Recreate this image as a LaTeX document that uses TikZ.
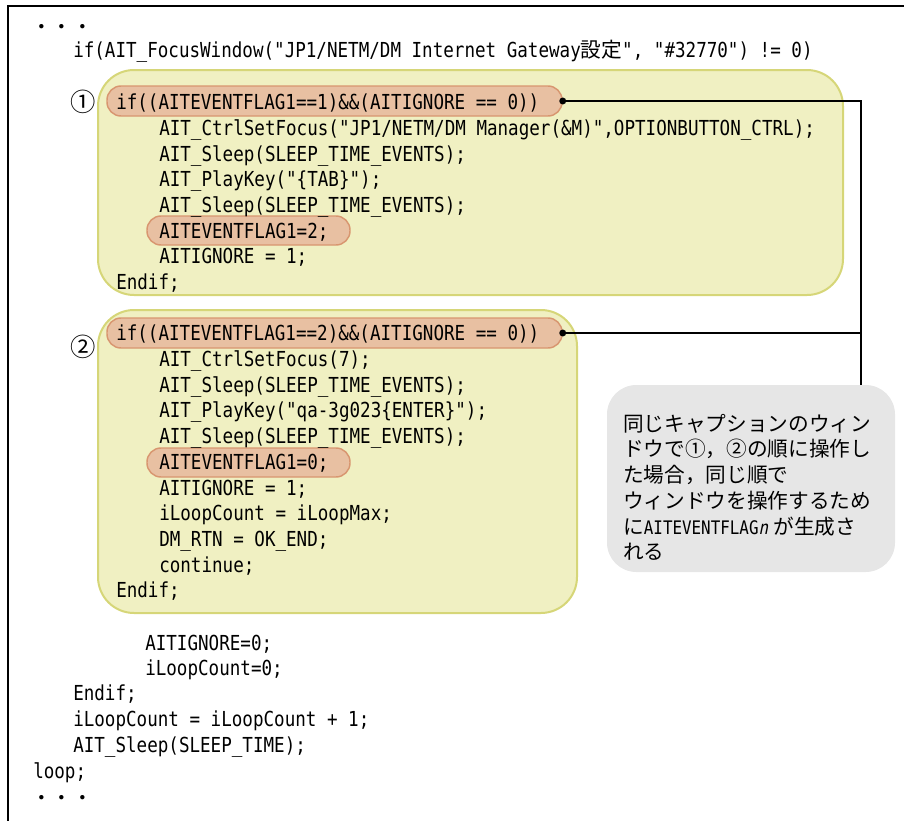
\documentclass[tikz,border=0pt]{standalone}
\usepackage{fontspec}
\usetikzlibrary{fit}
\newfontfamily\codefont[FakeStretch=0.85]{DejaVu Sans Mono}
\newfontfamily\codeslant[FakeStretch=0.85,FakeSlant=0.2]{DejaVu Sans Mono}
\newfontfamily\jpfont{Noto Sans CJK JP}
\newcommand\codesz{\codefont\fontsize{15.5pt}{19pt}\selectfont}
\newcommand\capcode{\codefont\fontsize{14pt}{19pt}\selectfont}
\newcommand\capit{\codeslant\fontsize{14pt}{19pt}\selectfont}
\newcommand\jpsz{\jpfont\fontsize{15.5pt}{19pt}\selectfont}
\newcommand\numsz{\jpfont\fontsize{19pt}{22pt}\selectfont}
\newcommand\jp[1]{{\jpsz #1}}
\definecolor{blockfill}{RGB}{240,240,194}
\definecolor{blockline}{RGB}{214,214,120}
\definecolor{pillfill}{RGB}{232,192,162}
\definecolor{pillline}{RGB}{216,150,112}
\definecolor{notefill}{RGB}{230,230,230}
\begin{document}
\begin{tikzpicture}[x=0.75pt,y=-0.75pt,
  blockbox/.style={draw=blockline, fill=blockfill, line width=1.5pt, rounded corners=27pt, inner sep=0pt},
  pill/.style={draw=pillline, fill=pillfill, line width=1.1pt, rounded corners=10.5pt, inner sep=0pt},
  notebox/.style={fill=notefill, rounded corners=22pt, inner sep=0pt},
  codeline/.style={anchor=base west, inner sep=0pt, font=\codesz},
  jpline/.style={anchor=base west, inner sep=0pt, font=\jpsz},
  numline/.style={anchor=base west, inner sep=0pt, font=\numsz},
  conn/.style={line width=1.1pt},
  frameline/.style={line width=1.5pt}]
\useasboundingbox (0,0) rectangle (904,821);
% frame
\draw[frameline] (8,821) -- (8,6) -- (904,6);

% blocks and pills
\node[blockbox, fit={(98,70) (843,295)}] (b1) {};
\node[blockbox, fit={(98,310) (577,613)}] (b2) {};
\node[pill, fit={(107,86) (562,116)}] (p1) {};
\node[pill, fit={(147,216) (350,245)}] (p3) {};
\node[pill, fit={(107,318) (562,348)}] (p2) {};
\node[pill, fit={(147,448) (350,477)}] (p4) {};
\node[notebox, fit={(607,385) (895,572)}] (note) {};

% connectors
\coordinate (c1) at (861,101);
\draw[conn] (p1.east) -- (c1) -- (c1 |- note.north);
\draw[conn] (p2.east) -- (p2.east -| c1);
\fill (p1.east) circle (2.6pt);
\fill (p2.east) circle (2.6pt);

% top text
\node[jpline] (dots1) at (31,34) {・・・};
\node[codeline] (l0) at (73,57) {if(AIT\_FocusWindow("JP1/NETM/DM Internet Gateway\jp{設定}", "\#32770") != 0)};

% block 1
\node[numline] (n1) at (70,111) {①};
\node[codeline] (a1) at (116,109) {if((AITEVENTFLAG1==1)\&\&(AITIGNORE == 0))};
\node[codeline] (a2) at (159,135) {AIT\_CtrlSetFocus("JP1/NETM/DM Manager(\&M)",OPTIONBUTTON\_CTRL);};
\node[codeline] (a3) at (159,161) {AIT\_Sleep(SLEEP\_TIME\_EVENTS);};
\node[codeline] (a4) at (159,186) {AIT\_PlayKey("\{TAB\}");};
\node[codeline] (a5) at (159,212) {AIT\_Sleep(SLEEP\_TIME\_EVENTS);};
\node[codeline] (a6) at (159,238) {AITEVENTFLAG1=2;};
\node[codeline] (a7) at (159,263) {AITIGNORE = 1;};
\node[codeline] (a8) at (116,289) {Endif;};

% block 2
\node[numline] (n2) at (70,356) {②};
\node[codeline] (b2l1) at (116,340) {if((AITEVENTFLAG1==2)\&\&(AITIGNORE == 0))};
\node[codeline] (b2l2) at (159,366) {AIT\_CtrlSetFocus(7);};
\node[codeline] (b2l3) at (159,392) {AIT\_Sleep(SLEEP\_TIME\_EVENTS);};
\node[codeline] (b2l4) at (159,417) {AIT\_PlayKey("qa-3g023\{ENTER\}");};
\node[codeline] (b2l5) at (159,443) {AIT\_Sleep(SLEEP\_TIME\_EVENTS);};
\node[codeline] (b2l6) at (159,469) {AITEVENTFLAG1=0;};
\node[codeline] (b2l7) at (159,495) {AITIGNORE = 1;};
\node[codeline] (b2l8) at (159,520) {iLoopCount = iLoopMax;};
\node[codeline] (b2l9) at (159,546) {DM\_RTN = OK\_END;};
\node[codeline] (b2l10) at (159,572) {continue;};
\node[codeline] (b2l11) at (116,597) {Endif;};

% after
\node[codeline] (c1l) at (145,650) {AITIGNORE=0;};
\node[codeline] (c2l) at (145,675) {iLoopCount=0;};
\node[codeline] (c3l) at (73,700) {Endif;};
\node[codeline] (c4l) at (73,726) {iLoopCount = iLoopCount + 1;};
\node[codeline] (c5l) at (73,752) {AIT\_Sleep(SLEEP\_TIME);};
\node[codeline] (c6l) at (33,778) {loop;};
\node[jpline] (dots2) at (31,805) {・・・};

% note text
\node[jpline] (t1) at (623,431) {同じキャプションのウィン};
\node[jpline] (t2) at (623,456) {ドウで①，②の順に操作し};
\node[jpline] (t3) at (623,482) {た場合，同じ順で};
\node[jpline] (t4) at (623,508) {ウィンドウを操作するため};
\node[jpline] (t5) at (623,534) {に{\capcode AITEVENTFLAG}{\capit n}\hspace{4pt}が生成さ};
\node[jpline] (t6) at (623,559) {れる};
\end{tikzpicture}
\end{document}
